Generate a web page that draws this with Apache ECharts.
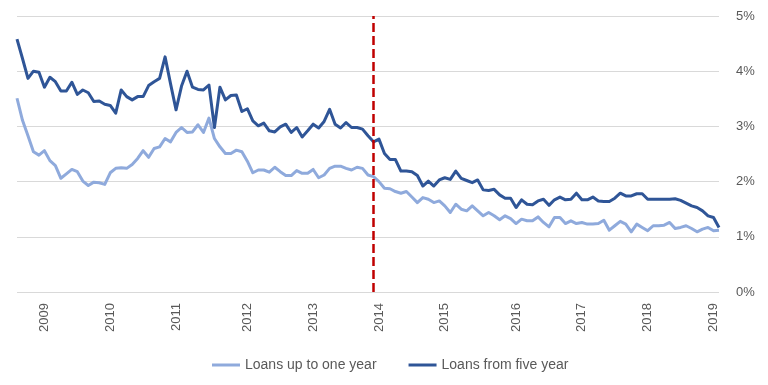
<!DOCTYPE html>
<html>
<head>
<meta charset="utf-8">
<script src="https://cdn.jsdelivr.net/npm/echarts@6/dist/echarts.min.js"></script>
<style>
html,body{margin:0;padding:0;background:#fff;}
#chart{width:768px;height:385px;}
</style>
</head>
<body>
<div id="chart"></div>
<script>
const seriesNames = ['Loans up to one year', 'Loans from five year'];

const loansUpToOneYear = [
3.51,3.11,2.83,2.54,2.48,2.56,2.38,2.29,2.06,2.14,2.22,2.18,2.01,1.93,1.99,1.98,1.95,2.16,2.24,2.25,
2.24,2.31,2.42,2.56,2.44,2.60,2.63,2.78,2.72,2.89,2.98,2.89,2.90,3.03,2.89,3.15,2.78,2.63,2.51,2.51,
2.57,2.54,2.37,2.16,2.21,2.21,2.17,2.26,2.18,2.11,2.11,2.20,2.15,2.15,2.22,2.07,2.12,2.24,2.28,2.28,
2.24,2.21,2.26,2.24,2.12,2.09,2.00,1.88,1.87,1.82,1.79,1.82,1.72,1.62,1.71,1.68,1.62,1.65,1.56,1.44,
1.59,1.50,1.47,1.56,1.47,1.38,1.44,1.38,1.31,1.38,1.33,1.24,1.32,1.29,1.29,1.36,1.26,1.18,1.35,1.35,
1.24,1.29,1.24,1.26,1.23,1.23,1.24,1.30,1.12,1.20,1.28,1.23,1.09,1.23,1.17,1.11,1.20,1.20,1.21,1.26,
1.15,1.17,1.20,1.15,1.09,1.14,1.17,1.11,1.12
];

const loansFromFiveYear = [
4.58,4.23,3.87,4.00,3.98,3.71,3.89,3.81,3.64,3.64,3.80,3.58,3.66,3.61,3.45,3.46,3.40,3.38,3.24,3.66,
3.54,3.48,3.54,3.54,3.74,3.81,3.87,4.26,3.77,3.30,3.73,4.00,3.71,3.67,3.66,3.75,2.98,3.71,3.48,3.56,
3.57,3.27,3.32,3.10,3.01,3.06,2.92,2.90,2.99,3.04,2.89,2.98,2.81,2.92,3.04,2.97,3.09,3.31,3.04,2.97,
3.07,2.98,2.98,2.95,2.83,2.72,2.77,2.51,2.40,2.40,2.19,2.19,2.18,2.11,1.92,2.01,1.92,2.03,2.07,2.04,
2.19,2.06,2.02,1.98,2.03,1.85,1.84,1.86,1.76,1.70,1.70,1.53,1.67,1.59,1.58,1.65,1.68,1.57,1.67,1.72,
1.67,1.68,1.79,1.67,1.67,1.72,1.65,1.64,1.64,1.70,1.79,1.74,1.74,1.78,1.78,1.68,1.68,1.68,1.68,1.68,
1.69,1.66,1.61,1.56,1.53,1.47,1.38,1.35,1.17
];

const yearLabels = ['2009','2010','2011','2012','2013','2014','2015','2016','2017','2018','2019'];
const yearTickIndex = [5,17,29,42,54,66,78,91,103,115,127];
const markerIndex = 65;

const yTicks = [0,1,2,3,4,5];

const periods = loansFromFiveYear.map((_, i) => String(i));

const FONT = '"Liberation Sans", Arial, sans-serif';
const chart = echarts.init(document.getElementById('chart'), null, {renderer: 'canvas'});
chart.setOption({
  animation: false,
  backgroundColor: '#ffffff',
  textStyle: {fontFamily: FONT},
  grid: {left: 17, right: 49, top: 16, bottom: 93, containLabel: false},
  legend: {
    data: seriesNames,
    bottom: 8,
    left: 207,
    icon: 'rect',
    itemWidth: 28,
    itemHeight: 3,
    itemGap: 32,
    textStyle: {color: '#595959', fontSize: 14, fontFamily: FONT}
  },
  xAxis: {
    type: 'category',
    data: periods,
    boundaryGap: false,
    axisLine: {show: false},
    axisTick: {show: false},
    splitLine: {show: false},
    axisLabel: {
      rotate: 90,
      margin: 11,
      color: '#595959',
      fontSize: 13,
      fontFamily: FONT,
      interval: (idx) => yearTickIndex.indexOf(idx) >= 0,
      formatter: (v, idx) => {
        const k = yearTickIndex.indexOf(idx);
        return k >= 0 ? yearLabels[k] : '';
      }
    }
  },
  yAxis: {
    type: 'value',
    position: 'right',
    min: yTicks[0],
    max: yTicks[yTicks.length - 1],
    interval: 1,
    axisLine: {show: false},
    axisTick: {show: false},
    axisLabel: {
      margin: 17,
      color: '#595959',
      fontSize: 13,
      fontFamily: FONT,
      formatter: '{value}%'
    },
    splitLine: {lineStyle: {color: '#d9d9d9', width: 1}}
  },
  series: [
    {
      name: seriesNames[0],
      type: 'line',
      data: loansUpToOneYear,
      showSymbol: false,
      symbol: 'none',
      color: '#8faadc',
      lineStyle: {color: '#8faadc', width: 3, join: 'round'},
      z: 2
    },
    {
      name: seriesNames[1],
      type: 'line',
      data: loansFromFiveYear,
      showSymbol: false,
      symbol: 'none',
      color: '#2f5597',
      lineStyle: {color: '#2f5597', width: 3, join: 'round'},
      z: 3,
      markLine: {
        silent: true,
        symbol: ['none', 'none'],
        label: {show: false},
        lineStyle: {color: '#c00000', width: 2.5, type: [9, 4]},
        data: [{xAxis: markerIndex}]
      }
    }
  ]
});
</script>
</body>
</html>
